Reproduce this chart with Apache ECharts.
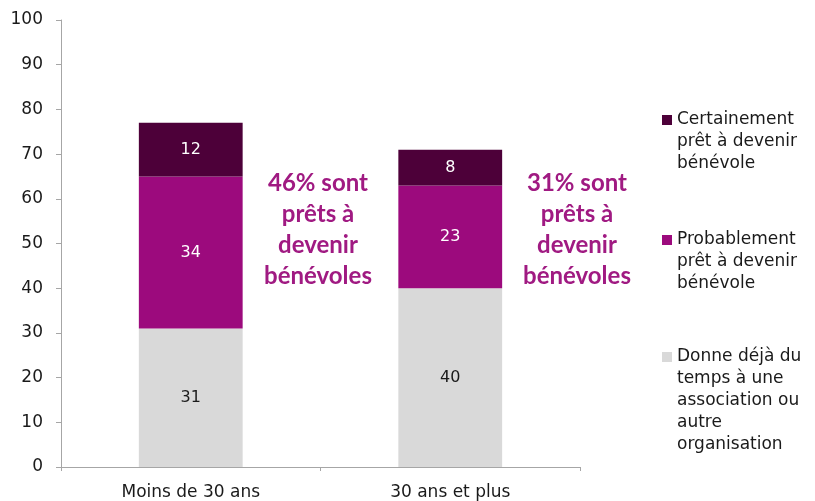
<!DOCTYPE html>
<html>
<head>
<meta charset="utf-8">
<script src="https://cdn.jsdelivr.net/npm/echarts@6/dist/echarts.min.js"></script>
<style>
  html, body { margin: 0; padding: 0; background: #fff; }
  #chart { width: 815px; height: 501px; }
</style>
</head>
<body>
<div id="chart"></div>
<script>
  var categories = ['Moins de 30 ans', '30 ans et plus']
  var dejaDonne = [31, 40]
  var probablement = [34, 23]
  var certainement = [12, 8]
  var yTicks = [0, 10, 20, 30, 40, 50, 60, 70, 80, 90, 100]
  var notes = ['46% sont\nprêts à\ndevenir\nbénévoles', '31% sont\nprêts à\ndevenir\nbénévoles']

  var nomDeja = 'Donne déjà du\ntemps à une\nassociation ou\nautre\norganisation'
  var nomProb = 'Probablement\nprêt à devenir\nbénévole'
  var nomCert = 'Certainement\nprêt à devenir\nbénévole'

  var font = 'Verdana, "DejaVu Sans", sans-serif'
  var axisGray = '#a6a6a6'

  // une légende par élément : on ajoute des lignes vides au-dessus
  // pour que le carré tombe sur la première ligne du texte
  function legende(nom, top) {
    var lignes = nom.split('\n').length
    return {
      orient: 'vertical',
      left: 662,
      top: top,
      padding: 0,
      itemWidth: 10,
      itemHeight: 10,
      itemGap: 0,
      selectedMode: false,
      icon: 'rect',
      data: [nom],
      formatter: function(n) {
        return new Array(lignes).join('\n') + n
      },
      textStyle: {
        fontFamily: font,
        fontSize: 17,
        lineHeight: 22,
        color: '#1a1a1a'
      }
    }
  }

  var chart = echarts.init(document.getElementById('chart'))
  var options = {
    animation: false,
    grid: {
      left: 61,
      right: 235,
      top: 20,
      bottom: 32
    },
    legend: [
      legende(nomCert, 65),
      legende(nomProb, 185),
      legende(nomDeja, 258)
    ],
    xAxis: {
      type: 'category',
      data: categories,
      axisLine: { lineStyle: { color: axisGray, width: 1 } },
      axisTick: { show: true, length: 4, lineStyle: { color: axisGray } },
      axisLabel: {
        fontFamily: font,
        fontSize: 17,
        color: '#1a1a1a',
        margin: 17
      }
    },
    yAxis: {
      type: 'value',
      min: yTicks[0],
      max: yTicks[yTicks.length - 1],
      interval: 10,
      axisLine: { show: true, lineStyle: { color: axisGray, width: 1 } },
      axisTick: { show: true, length: 5, lineStyle: { color: axisGray } },
      splitLine: { show: false },
      axisLabel: {
        fontFamily: font,
        fontSize: 17,
        color: '#1a1a1a',
        margin: 18
      }
    },
    series: [
      {
        name: nomDeja,
        type: 'bar',
        stack: 'total',
        barWidth: '40%',
        data: dejaDonne,
        itemStyle: { color: '#d9d9d9' },
        label: { show: true, color: '#1a1a1a', fontFamily: font, fontSize: 16 }
      },
      {
        name: nomProb,
        type: 'bar',
        stack: 'total',
        data: probablement,
        itemStyle: { color: '#9c0a7d' },
        label: { show: true, color: '#ffffff', fontFamily: font, fontSize: 16 }
      },
      {
        name: nomCert,
        type: 'bar',
        stack: 'total',
        data: certainement,
        itemStyle: { color: '#4d0039' },
        label: { show: true, color: '#ffffff', fontFamily: font, fontSize: 16 }
      }
    ],
    graphic: notes.map(function(txt, i) {
      return {
        type: 'text',
        x: i === 0 ? 318 : 577,
        y: 230,
        style: {
          text: txt,
          align: 'center',
          verticalAlign: 'middle',
          fontFamily: 'Lato, "Open Sans", sans-serif',
          fontWeight: 'bold',
          fontSize: 24,
          lineHeight: 31,
          fill: '#a01a82'
        }
      }
    })
  }
  chart.setOption(options)
</script>
</body>
</html>
